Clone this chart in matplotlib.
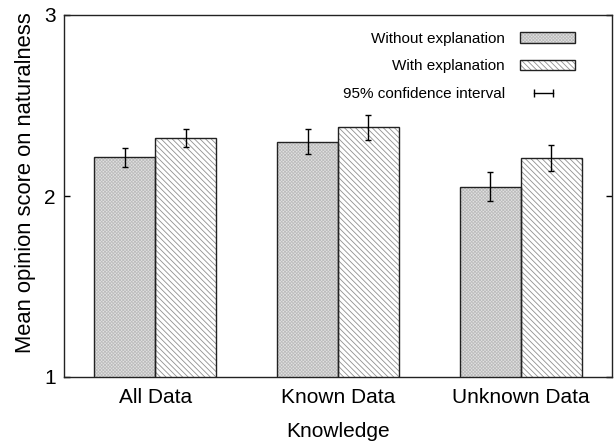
import matplotlib
matplotlib.use('Agg')
import matplotlib.pyplot as plt
import numpy as np
from matplotlib.patches import Patch
from matplotlib.lines import Line2D
from matplotlib.legend_handler import HandlerBase

plt.rcParams['font.family'] = ['Liberation Sans', 'DejaVu Sans']
plt.rcParams['hatch.linewidth'] = 0.6

# values
categories = ['All Data', 'Known Data', 'Unknown Data']
without_mean = [2.215, 2.300, 2.050]
without_lo = [2.159, 2.232, 1.971]
without_hi = [2.265, 2.368, 2.131]
with_mean = [2.318, 2.380, 2.208]
with_lo = [2.270, 2.309, 2.140]
with_hi = [2.369, 2.446, 2.280]

CHECK = 'xxxxxxxxxx'
DIAG = '\\\\\\\\\\\\'


class HandlerCI(HandlerBase):
    # short horizontal errorbar for the legend
    def create_artists(self, legend, orig_handle, xdescent, ydescent,
                       width, height, fontsize, trans):
        cx = width / 2 - xdescent - 3
        cy = height / 2 - ydescent
        line = Line2D([cx - 7, cx + 7], [cy, cy], color='black', lw=1.0,
                      marker='|', markersize=6, markeredgewidth=1.0,
                      transform=trans)
        return [line]


class HandlerHatch(HandlerBase):
    # grey hatch with a dark outline, like the bars
    def create_artists(self, legend, orig_handle, xdescent, ydescent,
                       width, height, fontsize, trans):
        fill = plt.Rectangle((-xdescent, -ydescent), width, height,
                             facecolor=orig_handle.get_facecolor(),
                             edgecolor=orig_handle.get_edgecolor(),
                             hatch=orig_handle.get_hatch(), lw=0, transform=trans)
        edge = plt.Rectangle((-xdescent, -ydescent), width, height,
                             facecolor='none', edgecolor='#222222', lw=1.0,
                             transform=trans)
        return [fill, edge]


fig = plt.figure(figsize=(6.15, 4.41), dpi=100)
ax = fig.add_axes([64 / 615, 1 - 377 / 441, 548 / 615, 362 / 441])

x = np.arange(len(categories))
w = 1 / 3

# hatched fills (grey), then black outlines on top
ax.bar(x - w / 2, without_mean, w, color='#e2e2e2', edgecolor='#bdbdbd',
       hatch=CHECK, lw=0)
ax.bar(x + w / 2, with_mean, w, color='white', edgecolor='#909090',
       hatch=DIAG, lw=0)
ax.bar(x - w / 2, without_mean, w, color='none', edgecolor='#222222', lw=1.0)
ax.bar(x + w / 2, with_mean, w, color='none', edgecolor='#222222', lw=1.0)

err_wo = [np.array(without_mean) - np.array(without_lo),
          np.array(without_hi) - np.array(without_mean)]
err_w = [np.array(with_mean) - np.array(with_lo),
         np.array(with_hi) - np.array(with_mean)]
ax.errorbar(x - w / 2, without_mean, yerr=err_wo, fmt='none', ecolor='black',
            elinewidth=1.0, capsize=2, capthick=1.0)
ax.errorbar(x + w / 2, with_mean, yerr=err_w, fmt='none', ecolor='black',
            elinewidth=1.0, capsize=2, capthick=1.0)

ax.set_xlim(-0.5, 2.5)
ax.set_ylim(1, 3)
ax.set_yticks([1, 2, 3])
ax.set_xticks(x)
ax.set_xticklabels(categories)
ax.tick_params(axis='x', length=0, pad=8, labelsize=15)
ax.tick_params(axis='y', direction='in', length=4, width=1, right=True,
               pad=6, labelsize=15)
for sp in ax.spines.values():
    sp.set_linewidth(1.0)
    sp.set_color('#222222')

ax.set_xlabel('Knowledge', fontsize=15, labelpad=10.5)
ax.set_ylabel('Mean opinion score on naturalness', fontsize=15.8, labelpad=6)
ax.yaxis.label.set_y(0.536)

handles = [
    Patch(facecolor='#e2e2e2', edgecolor='#bdbdbd', hatch=CHECK),
    Patch(facecolor='white', edgecolor='#909090', hatch=DIAG),
    Line2D([], [], color='black'),
]
labels = ['Without explanation', 'With explanation', '95% confidence interval']
ax.legend(handles, labels, loc='upper right', bbox_to_anchor=(0.9325, 0.953),
          frameon=False, markerfirst=False, fontsize=11, handlelength=3.6,
          handletextpad=1.0, labelspacing=0.88, borderpad=0, borderaxespad=0,
          handler_map={handles[0]: HandlerHatch(), handles[1]: HandlerHatch(),
                       handles[2]: HandlerCI()})

fig.savefig('out.png', dpi=100)
